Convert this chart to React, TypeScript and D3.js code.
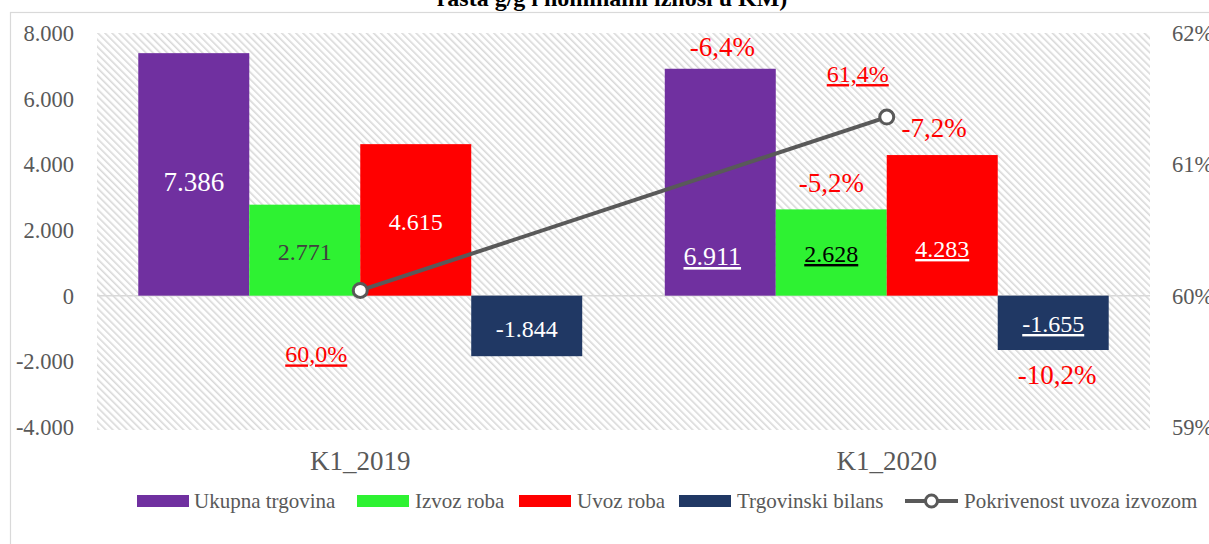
import React from "react";
import * as d3 from "d3";

const categories = ["K1_2019", "K1_2020"];
const seriesNames = ["Ukupna trgovina", "Izvoz roba", "Uvoz roba", "Trgovinski bilans"];
const seriesColors = ["#7030A0", "#2EF232", "#FF0000", "#203864"];
const values2019 = [7386, 2771, 4615, -1844];
const values2020 = [6911, 2628, 4283, -1655];
const valueLabels2019 = ["7.386", "2.771", "4.615", "-1.844"];
const valueLabels2020 = ["6.911", "2.628", "4.283", "-1.655"];
const growth2020 = ["-6,4%", "-5,2%", "-7,2%", "-10,2%"];
const coverage = [60.04, 61.36];
const coverageLabels = ["60,0%", "61,4%"];
const lineName = "Pokrivenost uvoza izvozom";
const leftTicks = [8000, 6000, 4000, 2000, 0, -2000, -4000];
const leftTickLabels = ["8.000", "6.000", "4.000", "2.000", "0", "-2.000", "-4.000"];
const rightTicks = [62, 61, 60, 59];
const rightTickLabels = ["62%", "61%", "60%", "59%"];
const titleText = "rasta g/g i nominalni iznosi u KM)";

const W = 1209;
const H = 544;
const FONT = "'Liberation Serif', 'Times New Roman', serif";

export default function App() {
  const plotL = 97, plotR = 1150, plotT = 33, plotB = 427;
  const x = d3.scaleBand<string>().domain(categories).range([plotL, plotR]).paddingInner(0).paddingOuter(0);
  const xs = d3.scaleBand<string>().domain(seriesNames).range([0, x.bandwidth()]).paddingInner(0).paddingOuter(0.372);
  const y = d3.scaleLinear().domain([-4000, 8000]).range([plotB, plotT]);
  const y2 = d3.scaleLinear().domain([59, 62]).range([plotB, plotT]);
  const data = [values2019, values2020];
  const labels = [valueLabels2019, valueLabels2020];

  const labelStyle = (ci: number, si: number) => {
    const white = "#FFFFFF";
    if (ci === 0) {
      const fills = [white, "#404040", white, white];
      const sizes = [27, 24, 24, 24];
      return { fill: fills[si], underline: false, dx: 0, size: sizes[si] };
    }
    const fills = [white, "#000000", white, white];
    const sizes = [26, 24, 24, 24];
    return { fill: fills[si], underline: true, dx: si === 0 ? -8 : 0, size: sizes[si] };
  };
  const labelBaseline = [
    [191, 260, 230, 337],
    [265, 262, 257, 332],
  ];

  const line = d3
    .line<number>()
    .x((_, i) => (x(categories[i]) as number) + x.bandwidth() / 2)
    .y((d) => y2(d));

  const growthOffsets = [
    { dx: 2, dy: -13 },
    { dx: 0, dy: -17 },
    { dx: -8, dy: -18 },
    { dx: 4, dy: 34 },
  ];
  const coverageOffsets = [
    { dx: -44, dy: 72 },
    { dx: -29, dy: -35 },
  ];

  const legendItems = [
    { sw: 137, tx: 194 },
    { sw: 357, tx: 415 },
    { sw: 519, tx: 577 },
    { sw: 679, tx: 737 },
  ];

  return (
    <svg
      width={W}
      height={H}
      style={{ position: "absolute", left: 0, top: 0, background: "#fff" }}
      fontFamily={FONT}
    >
      <defs>
        <pattern id="hatch" patternUnits="userSpaceOnUse" width="5" height="5" patternTransform="rotate(-45)">
          <rect x="0" y="0" width="5" height="5" fill="#ffffff" />
          <rect x="0" y="0" width="1.6" height="5" fill="#d9d9d9" />
        </pattern>
      </defs>
      <rect x={0} y={0} width={W} height={H} fill="#fff" />
      <text x={612} y={6} textAnchor="middle" fontWeight="bold" fontSize={24} fill="#000">
        {titleText}
      </text>
      <rect x={10.5} y={12.5} width={1400} height={700} fill="#fff" stroke="#d9d9d9" strokeWidth={1.2} />
      <rect x={plotL} y={plotT} width={plotR - plotL} height={plotB - plotT + 3} fill="url(#hatch)" />

      <line x1={plotL} x2={plotR} y1={y(0)} y2={y(0)} stroke="#d9d9d9" strokeWidth={1.5} />

      {leftTicks.map((t, i) => (
        <text key={t} x={74} y={y(t) + 8} textAnchor="end" fontSize={22.5} fill="#595959">
          {leftTickLabels[i]}
        </text>
      ))}
      {rightTicks.map((t, i) => (
        <text key={t} x={1172} y={y2(t) + 8} textAnchor="start" fontSize={22.5} fill="#595959">
          {rightTickLabels[i]}
        </text>
      ))}

      {categories.map((c, ci) =>
        seriesNames.map((s, si) => {
          const v = data[ci][si];
          const bx = (x(c) as number) + (xs(s) as number);
          const by = v >= 0 ? y(v) : y(0);
          const bh = Math.abs(y(v) - y(0));
          return <rect key={c + s} x={bx} y={by} width={xs.bandwidth()} height={bh} fill={seriesColors[si]} />;
        })
      )}

      {categories.map((c, ci) =>
        seriesNames.map((s, si) => {
          const st = labelStyle(ci, si);
          const cx = (x(c) as number) + (xs(s) as number) + xs.bandwidth() / 2 + st.dx;
          return (
            <text
              key={"l" + c + s}
              x={cx}
              y={labelBaseline[ci][si]}
              textAnchor="middle"
              fontSize={st.size}
              fill={st.fill}
              style={st.underline ? { textDecoration: "underline" } : undefined}
            >
              {labels[ci][si]}
            </text>
          );
        })
      )}

      {seriesNames.map((s, si) => {
        const v = values2020[si];
        const cx = (x(categories[1]) as number) + (xs(s) as number) + xs.bandwidth() / 2 + growthOffsets[si].dx;
        return (
          <text key={"g" + s} x={cx} y={y(v) + growthOffsets[si].dy} textAnchor="middle" fontSize={27} fill="#FF0000">
            {growth2020[si]}
          </text>
        );
      })}

      <path d={line(coverage) || ""} fill="none" stroke="#595959" strokeWidth={4} />
      {coverage.map((v, i) => {
        const cx = (x(categories[i]) as number) + x.bandwidth() / 2;
        return <circle key={"c" + i} cx={cx} cy={y2(v)} r={7} fill="#fff" stroke="#595959" strokeWidth={3} />;
      })}
      {coverage.map((v, i) => {
        const cx = (x(categories[i]) as number) + x.bandwidth() / 2 + coverageOffsets[i].dx;
        return (
          <text
            key={"cl" + i}
            x={cx}
            y={y2(v) + coverageOffsets[i].dy}
            textAnchor="middle"
            fontSize={24}
            fill="#FF0000"
            style={{ textDecoration: "underline" }}
          >
            {coverageLabels[i]}
          </text>
        );
      })}

      {categories.map((c) => (
        <text key={"cat" + c} x={(x(c) as number) + x.bandwidth() / 2} y={470} textAnchor="middle" fontSize={27} fill="#595959">
          {c}
        </text>
      ))}

      {seriesNames.map((s, si) => (
        <g key={"lg" + s}>
          <rect x={legendItems[si].sw} y={495} width={52} height={12} fill={seriesColors[si]} />
          <text x={legendItems[si].tx} y={508} fontSize={21} fill="#595959">
            {s}
          </text>
        </g>
      ))}
      <line x1={905} x2={958} y1={501} y2={501} stroke="#595959" strokeWidth={4} />
      <circle cx={931.5} cy={501} r={6} fill="#fff" stroke="#595959" strokeWidth={3} />
      <text x={964} y={508} fontSize={21} fill="#595959">
        {lineName}
      </text>
    </svg>
  );
}
